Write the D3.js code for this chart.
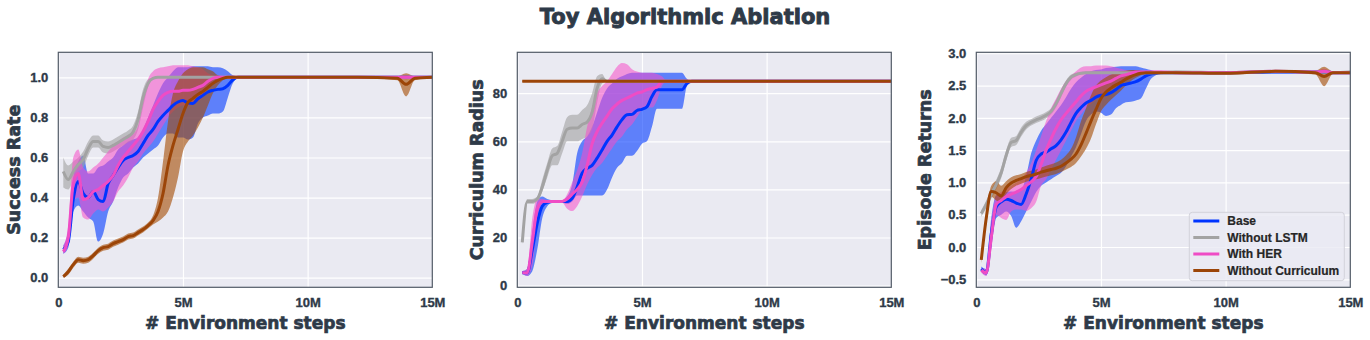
<!DOCTYPE html>
<html lang="en">
<head>
    <meta charset="UTF-8">
    <title>Toy Algorithmic Ablation</title>
    <script src="https://d3js.org/d3.v7.min.js"></script>
    <style>
        body {
            margin: 0;
            background: #ffffff;
        }

        .tick text {
            font-family: 'Liberation Sans', Arial, sans-serif;
            font-weight: bold;
            font-size: 13px;
            fill: #2e3a48;
            stroke: #2e3a48;
            stroke-width: 0.35px;
        }

        .grid line {
            stroke: #ffffff;
            stroke-width: 1.2px;
        }

        .label {
            font-family: 'DejaVu Sans', sans-serif;
            font-weight: bold;
            fill: #2e3a48;
            stroke: #2e3a48;
            stroke-width: 0.7px;
        }

        .legend text {
            font-family: 'Liberation Sans', Arial, sans-serif;
            font-weight: bold;
            font-size: 12px;
            fill: #262626;
            stroke: #262626;
            stroke-width: 0.2px;
        }
    </style>
</head>
<body>
    <svg width="1370" height="340" id="chart"></svg>

    <script>
        // x positions, millions of environment steps
        const steps = [
            0.2, 0.4, 0.6, 0.8, 1.0, 1.2, 1.4, 1.6, 1.8, 2.0,
            2.2, 2.4, 2.6, 2.8, 3.0, 3.2, 3.4, 3.6, 3.8, 4.0,
            4.2, 4.4, 4.6, 4.8, 5.0, 5.2, 5.4, 5.6, 5.8, 6.0,
            6.2, 6.4, 6.6, 6.8, 7.0, 7.2, 7.4,
            8, 10, 12, 13.6, 13.95, 14.3, 15
        ];

        const seriesNames = ["Base", "Without LSTM", "With HER", "Without Curriculum"];
        const seriesColors = ["#0034ff", "#a3a3a3", "#ef4cc5", "#9c4508"];
        const bandColors = ["#0038ff", "#a0a0a0", "#f54cc8", "#a34a00"];

        const xTicks = [0, 5, 10, 15];
        const xTickLabels = ["0", "5M", "10M", "15M"];

        // ---- Success Rate ----
        const srTicks = [0.0, 0.2, 0.4, 0.6, 0.8, 1.0];
        const srBase = [
            0.14, 0.18, 0.39, 0.48, 0.42, 0.40, 0.43, 0.39, 0.38, 0.47,
            0.51, 0.55, 0.585, 0.60, 0.61, 0.63, 0.67, 0.71, 0.74, 0.78,
            0.81, 0.835, 0.86, 0.877, 0.885, 0.872, 0.87, 0.893, 0.91, 0.927,
            0.935, 0.94, 0.943, 0.96, 0.988, 1.0, 1.0,
            1.0, 1.0, 1.0, 1.0, 1.0, 1.0, 1.0
        ];
        const srBaseLo = [
            0.12, 0.15, 0.33, 0.36, 0.33, 0.30, 0.28, 0.18, 0.22, 0.33,
            0.38, 0.45, 0.50, 0.52, 0.55, 0.57, 0.60, 0.62, 0.64, 0.66,
            0.70, 0.72, 0.72, 0.70, 0.70, 0.69, 0.70, 0.77, 0.80, 0.81,
            0.82, 0.82, 0.83, 0.90, 0.97, 0.995, 0.997,
            0.998, 0.998, 0.998, 0.998, 0.996, 0.998, 0.998
        ];
        const srBaseHi = [
            0.16, 0.24, 0.50, 0.58, 0.61, 0.52, 0.52, 0.55, 0.56, 0.58,
            0.60, 0.64, 0.66, 0.68, 0.69, 0.70, 0.74, 0.80, 0.86, 0.92,
            0.97, 1.00, 1.03, 1.05, 1.05, 1.05, 1.055, 1.055, 1.055, 1.055,
            1.05, 1.05, 1.045, 1.03, 1.01, 1.005, 1.003,
            1.002, 1.002, 1.002, 1.002, 1.004, 1.002, 1.002
        ];
        const srLstm = [
            0.53, 0.49, 0.53, 0.565, 0.59, 0.645, 0.68, 0.68, 0.655, 0.65,
            0.66, 0.675, 0.69, 0.705, 0.727, 0.79, 0.90, 0.97, 0.995, 1.0,
            1.0, 1.0, 1.0, 1.0, 1.0, 1.0, 1.0, 1.0, 1.0, 1.0,
            1.0, 1.0, 1.0, 1.0, 1.0, 1.0, 1.0,
            1.0, 1.0, 1.0, 1.0, 1.0, 1.0, 1.0
        ];
        const srLstmLo = [
            0.45, 0.44, 0.49, 0.53, 0.55, 0.61, 0.65, 0.65, 0.625, 0.62,
            0.63, 0.645, 0.66, 0.675, 0.69, 0.74, 0.85, 0.95, 0.99, 0.997,
            0.997, 0.997, 0.997, 0.997, 0.997, 0.997, 0.997, 0.997, 0.997, 0.997,
            0.997, 0.997, 0.997, 0.997, 0.997, 0.997, 0.997,
            0.998, 0.998, 0.998, 0.998, 0.998, 0.998, 0.998
        ];
        const srLstmHi = [
            0.60, 0.56, 0.58, 0.60, 0.63, 0.68, 0.71, 0.71, 0.685, 0.68,
            0.69, 0.705, 0.72, 0.735, 0.76, 0.83, 0.94, 0.99, 1.0, 1.003,
            1.003, 1.003, 1.003, 1.003, 1.003, 1.003, 1.003, 1.003, 1.003, 1.003,
            1.003, 1.003, 1.003, 1.003, 1.003, 1.003, 1.003,
            1.002, 1.002, 1.002, 1.002, 1.002, 1.002, 1.002
        ];
        const srHer = [
            0.13, 0.20, 0.47, 0.52, 0.39, 0.40, 0.43, 0.44, 0.46, 0.48,
            0.51, 0.56, 0.60, 0.63, 0.66, 0.69, 0.73, 0.78, 0.84, 0.88,
            0.91, 0.925, 0.93, 0.93, 0.935, 0.935, 0.94, 0.95, 0.96, 0.98,
            0.995, 1.0, 1.0, 1.0, 1.0, 1.0, 1.0,
            1.0, 1.0, 1.0, 1.0, 1.0, 1.0, 1.0
        ];
        const srHerLo = [
            0.12, 0.16, 0.38, 0.40, 0.30, 0.29, 0.32, 0.34, 0.33, 0.35,
            0.38, 0.43, 0.46, 0.50, 0.55, 0.58, 0.62, 0.65, 0.68, 0.72,
            0.76, 0.80, 0.83, 0.85, 0.86, 0.86, 0.87, 0.88, 0.90, 0.94,
            0.98, 0.995, 0.997, 0.997, 0.997, 0.997, 0.997,
            0.998, 0.998, 0.998, 0.998, 0.99, 0.998, 0.998
        ];
        const srHerHi = [
            0.16, 0.26, 0.60, 0.64, 0.55, 0.53, 0.55, 0.57, 0.60, 0.63,
            0.66, 0.68, 0.70, 0.71, 0.72, 0.76, 0.88, 0.99, 1.03, 1.045,
            1.05, 1.055, 1.06, 1.06, 1.06, 1.06, 1.055, 1.05, 1.04, 1.02,
            1.01, 1.005, 1.003, 1.003, 1.003, 1.003, 1.003,
            1.002, 1.002, 1.002, 1.002, 1.012, 1.002, 1.002
        ];
        const srCurr = [
            0.005, 0.03, 0.065, 0.09, 0.085, 0.09, 0.11, 0.135, 0.15, 0.155,
            0.17, 0.18, 0.19, 0.205, 0.21, 0.225, 0.24, 0.26, 0.285, 0.33,
            0.42, 0.56, 0.66, 0.74, 0.82, 0.875, 0.895, 0.915, 0.93, 0.95,
            0.97, 0.985, 0.995, 1.0, 1.0, 1.0, 1.0,
            1.0, 1.0, 1.0, 0.995, 0.965, 0.995, 1.0
        ];
        const srCurrLo = [
            0.0, 0.015, 0.05, 0.075, 0.07, 0.075, 0.095, 0.12, 0.135, 0.14,
            0.155, 0.165, 0.175, 0.19, 0.195, 0.21, 0.225, 0.245, 0.265, 0.28,
            0.30, 0.33, 0.40, 0.50, 0.63, 0.68, 0.71, 0.75, 0.80, 0.86,
            0.92, 0.96, 0.985, 0.997, 0.997, 0.997, 0.997,
            0.998, 0.998, 0.998, 0.985, 0.905, 0.985, 0.998
        ];
        const srCurrHi = [
            0.015, 0.045, 0.08, 0.105, 0.10, 0.105, 0.125, 0.15, 0.165, 0.17,
            0.185, 0.195, 0.205, 0.22, 0.225, 0.24, 0.255, 0.275, 0.31, 0.40,
            0.58, 0.78, 0.92, 0.98, 1.02, 1.04, 1.05, 1.05, 1.05, 1.04,
            1.03, 1.01, 1.005, 1.003, 1.003, 1.003, 1.003,
            1.002, 1.002, 1.002, 1.005, 1.02, 1.005, 1.002
        ];

        // ---- Curriculum Radius ----
        const crTicks = [0, 20, 40, 60, 80];
        const crBase = [
            5.4, 5.4, 14.8, 26, 33, 34.6, 35, 35, 35, 35,
            36.3, 41, 46.7, 48.8, 50, 53, 56.4, 60, 62.6, 66,
            69, 71, 71.2, 72.8, 73.3, 74.4, 78.6, 81.4, 81.4, 81.4,
            81.4, 81.4, 81.4, 84, 85, 85, 85,
            85, 85, 85, 85, 85, 85, 85
        ];
        const crBaseLo = [
            5, 4, 6, 15, 28, 33, 34.5, 34.5, 34.5, 34,
            35, 37.5, 37.5, 37.5, 37.5, 37.5, 37.5, 40, 45, 49,
            51, 54, 54, 56, 59, 60, 66, 73.5, 73.5, 73.5,
            73.5, 73.5, 73.5, 83, 85, 85, 85,
            85, 85, 85, 85, 85, 85, 85
        ];
        const crBaseHi = [
            6, 7, 22, 35, 37, 36, 35.5, 35.5, 35.5, 37,
            42, 55, 60, 62, 66, 72, 78, 82, 84, 86,
            87, 88, 88.5, 88.5, 88.5, 88.5, 88.5, 88.5, 88.5, 88.5,
            88.5, 88.5, 88.5, 86, 85, 85, 85,
            85, 85, 85, 85, 85, 85, 85
        ];
        const crLstm = [
            18, 35, 35, 36, 41, 48, 54, 55, 60, 65,
            65.5, 65.5, 67, 68, 72, 82, 86, 85, 85, 85,
            85, 85, 85, 85, 85, 85, 85, 85, 85, 85,
            85, 85, 85, 85, 85, 85, 85,
            85, 85, 85, 85, 85, 85, 85
        ];
        const crLstmLo = [
            17, 34, 34, 35, 39, 45, 50, 50, 55, 60,
            60, 60, 61, 62, 65, 76, 84, 85, 85, 85,
            85, 85, 85, 85, 85, 85, 85, 85, 85, 85,
            85, 85, 85, 85, 85, 85, 85,
            85, 85, 85, 85, 85, 85, 85
        ];
        const crLstmHi = [
            20, 36, 36, 37, 44, 51, 57, 58, 64, 70,
            71, 71, 73, 75, 80, 87, 88, 85, 85, 85,
            85, 85, 85, 85, 85, 85, 85, 85, 85, 85,
            85, 85, 85, 85, 85, 85, 85,
            85, 85, 85, 85, 85, 85, 85
        ];
        const crHer = [
            5.4, 5.4, 18, 32, 35, 35, 35, 35, 35, 36,
            38, 40, 43, 50, 59, 64, 67.5, 70.5, 73.5, 75.5,
            77, 78, 79, 80, 80.5, 81.5, 82, 82.5, 85, 85,
            85, 85, 85, 85, 85, 85, 85,
            85, 85, 85, 85, 85, 85, 85
        ];
        const crHerLo = [
            5, 4, 8, 26, 33, 34.5, 34.5, 34.5, 34.5, 32,
            31, 33, 37, 42, 46, 49, 51, 54, 57, 60,
            62, 65, 67, 70, 73, 74, 74, 77, 83, 85,
            85, 85, 85, 85, 85, 85, 85,
            85, 85, 85, 85, 85, 85, 85
        ];
        const crHerHi = [
            6, 7, 28, 36, 36, 35.5, 35.5, 35.5, 35.5, 38,
            43, 48, 55, 66, 74, 80, 83, 85, 88, 91,
            92.5, 92, 90, 89, 88.5, 88.5, 88.5, 88, 87, 85,
            85, 85, 85, 85, 85, 85, 85,
            85, 85, 85, 85, 85, 85, 85
        ];
        const crCurrSteps = [0.2, 15];
        const crCurr = [85, 85];
        const crCurrLo = [84.7, 84.7];
        const crCurrHi = [85.3, 85.3];

        // ---- Episode Returns ----
        const erTicks = [-0.5, 0.0, 0.5, 1.0, 1.5, 2.0, 2.5, 3.0];
        const erBase = [
            -0.34, -0.40, 0.20, 0.62, 0.70, 0.74, 0.72, 0.68, 0.66, 0.82,
            1.05, 1.34, 1.44, 1.47, 1.52, 1.57, 1.66, 1.78, 1.93, 2.07,
            2.16, 2.23, 2.27, 2.32, 2.35, 2.36, 2.39, 2.44, 2.50, 2.52,
            2.54, 2.56, 2.60, 2.65, 2.68, 2.69, 2.70,
            2.70, 2.70, 2.71, 2.71, 2.71, 2.70, 2.70
        ];
        const erBaseLo = [
            -0.38, -0.44, 0.0, 0.45, 0.50, 0.55, 0.48, 0.30, 0.40, 0.55,
            0.70, 0.85, 0.95, 1.00, 1.05, 1.10, 1.15, 1.25, 1.40, 1.55,
            1.75, 1.95, 2.05, 2.10, 2.08, 2.03, 2.05, 2.15, 2.20, 2.24,
            2.25, 2.27, 2.30, 2.45, 2.60, 2.66, 2.68,
            2.68, 2.68, 2.69, 2.69, 2.69, 2.68, 2.68
        ];
        const erBaseHi = [
            -0.30, -0.34, 0.45, 0.80, 0.82, 0.85, 0.86, 0.85, 0.88, 1.10,
            1.45, 1.65, 1.80, 1.90, 2.00, 2.10, 2.20, 2.32, 2.45, 2.55,
            2.62, 2.68, 2.72, 2.74, 2.75, 2.77, 2.78, 2.79, 2.80, 2.80,
            2.80, 2.80, 2.78, 2.76, 2.74, 2.72, 2.72,
            2.72, 2.72, 2.73, 2.73, 2.73, 2.72, 2.72
        ];
        const erLstm = [
            0.52, 0.66, 0.82, 0.97, 1.15, 1.42, 1.62, 1.65, 1.78, 1.88,
            1.93, 1.97, 2.00, 2.04, 2.10, 2.22, 2.38, 2.53, 2.63, 2.67,
            2.69, 2.70, 2.70, 2.70, 2.70, 2.70, 2.70, 2.70, 2.70, 2.70,
            2.70, 2.70, 2.70, 2.70, 2.70, 2.70, 2.70,
            2.71, 2.70, 2.72, 2.71, 2.71, 2.70, 2.71
        ];
        const erLstmLo = [
            0.47, 0.60, 0.75, 0.90, 1.07, 1.34, 1.55, 1.58, 1.71, 1.82,
            1.88, 1.92, 1.95, 1.99, 2.05, 2.16, 2.32, 2.48, 2.59, 2.64,
            2.67, 2.68, 2.68, 2.68, 2.68, 2.68, 2.68, 2.68, 2.68, 2.68,
            2.68, 2.68, 2.68, 2.68, 2.68, 2.68, 2.68,
            2.69, 2.68, 2.70, 2.69, 2.69, 2.68, 2.69
        ];
        const erLstmHi = [
            0.57, 0.72, 0.89, 1.04, 1.23, 1.50, 1.69, 1.72, 1.85, 1.94,
            1.98, 2.02, 2.05, 2.09, 2.15, 2.28, 2.44, 2.58, 2.67, 2.70,
            2.71, 2.72, 2.72, 2.72, 2.72, 2.72, 2.72, 2.72, 2.72, 2.72,
            2.72, 2.72, 2.72, 2.72, 2.72, 2.72, 2.72,
            2.73, 2.72, 2.74, 2.73, 2.73, 2.72, 2.73
        ];
        const erHer = [
            -0.36, -0.40, 0.15, 0.66, 0.72, 0.78, 0.82, 0.85, 0.89, 0.95,
            1.01, 1.09, 1.28, 1.50, 1.68, 1.84, 1.97, 2.07, 2.16, 2.25,
            2.34, 2.41, 2.45, 2.48, 2.51, 2.54, 2.57, 2.61, 2.65, 2.67,
            2.69, 2.71, 2.71, 2.71, 2.71, 2.71, 2.71,
            2.70, 2.70, 2.72, 2.71, 2.72, 2.70, 2.70
        ];
        const erHerLo = [
            -0.40, -0.45, -0.05, 0.50, 0.45, 0.42, 0.55, 0.58, 0.58, 0.56,
            0.60, 0.70, 0.95, 1.05, 1.20, 1.35, 1.50, 1.65, 1.80, 1.95,
            2.05, 2.15, 2.22, 2.28, 2.33, 2.38, 2.44, 2.50, 2.58, 2.62,
            2.65, 2.68, 2.69, 2.69, 2.69, 2.69, 2.69,
            2.68, 2.68, 2.70, 2.69, 2.70, 2.68, 2.68
        ];
        const erHerHi = [
            -0.32, -0.34, 0.40, 0.80, 0.85, 0.90, 0.95, 1.00, 1.05, 1.15,
            1.30, 1.50, 1.72, 1.95, 2.15, 2.30, 2.45, 2.57, 2.65, 2.72,
            2.78, 2.80, 2.80, 2.81, 2.81, 2.81, 2.80, 2.78, 2.76, 2.74,
            2.73, 2.73, 2.73, 2.73, 2.73, 2.73, 2.73,
            2.72, 2.72, 2.74, 2.73, 2.76, 2.72, 2.72
        ];
        const erCurr = [
            -0.20, 0.45, 0.86, 0.84, 0.79, 0.92, 0.99, 1.03, 1.06, 1.09,
            1.11, 1.13, 1.16, 1.18, 1.20, 1.22, 1.25, 1.30, 1.36, 1.44,
            1.58, 1.76, 1.95, 2.13, 2.30, 2.40, 2.46, 2.51, 2.55, 2.60,
            2.64, 2.67, 2.69, 2.70, 2.70, 2.70, 2.70,
            2.70, 2.69, 2.72, 2.70, 2.64, 2.70, 2.70
        ];
        const erCurrLo = [
            -0.25, 0.35, 0.78, 0.72, 0.68, 0.82, 0.90, 0.95, 0.98, 1.01,
            1.03, 1.05, 1.07, 1.09, 1.11, 1.13, 1.16, 1.20, 1.24, 1.30,
            1.40, 1.52, 1.68, 1.90, 2.10, 2.20, 2.28, 2.35, 2.42, 2.50,
            2.57, 2.62, 2.66, 2.68, 2.68, 2.68, 2.68,
            2.68, 2.67, 2.70, 2.67, 2.49, 2.68, 2.68
        ];
        const erCurrHi = [
            -0.15, 0.55, 0.95, 1.02, 0.95, 1.02, 1.08, 1.11, 1.13, 1.16,
            1.18, 1.20, 1.23, 1.26, 1.28, 1.31, 1.35, 1.42, 1.52, 1.70,
            1.95, 2.15, 2.35, 2.50, 2.58, 2.63, 2.67, 2.70, 2.72, 2.73,
            2.74, 2.74, 2.73, 2.72, 2.72, 2.72, 2.72,
            2.72, 2.71, 2.74, 2.73, 2.79, 2.72, 2.72
        ];

        const panels = [
            {
                left: 58.3, yDomain: [-0.048, 1.125], ticks: srTicks, fmt: d3.format(".1f"),
                label: "Success Rate",
                series: [
                    [steps, srBase, srBaseLo, srBaseHi],
                    [steps, srLstm, srLstmLo, srLstmHi],
                    [steps, srHer, srHerLo, srHerHi],
                    [steps, srCurr, srCurrLo, srCurrHi]
                ]
            },
            {
                left: 517.3, yDomain: [-0.7, 97], ticks: crTicks, fmt: d3.format("d"),
                label: "Curriculum Radius",
                series: [
                    [steps, crBase, crBaseLo, crBaseHi],
                    [steps, crLstm, crLstmLo, crLstmHi],
                    [steps, crHer, crHerLo, crHerHi],
                    [crCurrSteps, crCurr, crCurrLo, crCurrHi]
                ]
            },
            {
                left: 976.3, yDomain: [-0.624, 3.015], ticks: erTicks, fmt: d3.format(".1f"),
                label: "Episode Returns",
                series: [
                    [steps, erBase, erBaseLo, erBaseHi],
                    [steps, erLstm, erLstmLo, erLstmHi],
                    [steps, erHer, erHerLo, erHerHi],
                    [steps, erCurr, erCurrLo, erCurrHi]
                ]
            }
        ];

        const svg = d3.select("#chart");
        const plotW = 374, plotH = 235, plotTop = 52.3;

        svg.append("text")
            .attr("class", "label")
            .attr("x", 685).attr("y", 24)
            .attr("text-anchor", "middle")
            .style("font-size", "21px")
            .style("stroke-width", "0.9px")
            .text("Toy Algorithmic Ablation");

        panels.forEach((p, pi) => {
            const g = svg.append("g").attr("transform", `translate(${p.left},${plotTop})`);
            const x = d3.scaleLinear().domain([0, 15]).range([0, plotW]);
            const y = d3.scaleLinear().domain(p.yDomain).range([plotH, 0]);

            g.append("rect").attr("width", plotW).attr("height", plotH).attr("fill", "#eaeaf2");

            g.append("clipPath").attr("id", "clip" + pi)
                .append("rect").attr("width", plotW).attr("height", plotH);

            // grid + tick labels
            const yAxis = g.append("g").attr("class", "grid")
                .call(d3.axisLeft(y).tickValues(p.ticks).tickFormat(p.fmt)
                    .tickSize(-plotW).tickPadding(10));
            yAxis.select(".domain").remove();

            g.append("g").attr("class", "grid")
                .attr("transform", `translate(0,${plotH})`)
                .call(d3.axisBottom(x).tickValues(xTicks)
                    .tickFormat((d, i) => xTickLabels[i])
                    .tickSize(-plotH).tickPadding(10))
                .select(".domain").remove();

            const plot = g.append("g").attr("clip-path", `url(#clip${pi})`);

            // bands first, then mean lines
            p.series.forEach((s, si) => {
                const [xs, mean, lo, hi] = s;
                const area = d3.area()
                    .x((d, i) => x(xs[i]))
                    .y0((d, i) => y(lo[i]))
                    .y1((d, i) => y(hi[i]))
                    .curve(d3.curveMonotoneX);
                plot.append("path")
                    .attr("d", area(mean))
                    .attr("fill", bandColors[si])
                    .attr("fill-opacity", si === 2 ? 0.55 : 0.6);
            });

            p.series.forEach((s, si) => {
                const [xs, mean] = s;
                const line = d3.line()
                    .x((d, i) => x(xs[i]))
                    .y(d => y(d))
                    .curve(d3.curveMonotoneX);
                plot.append("path")
                    .attr("d", line(mean))
                    .attr("fill", "none")
                    .attr("stroke", seriesColors[si])
                    .attr("stroke-width", 3)
                    .attr("stroke-linejoin", "round");
            });

            g.append("rect").attr("width", plotW).attr("height", plotH)
                .attr("fill", "none").attr("stroke", "#525a66").attr("stroke-width", 1.2);

            // axis labels
            g.append("text").attr("class", "label")
                .attr("x", plotW / 2).attr("y", 276.5)
                .attr("text-anchor", "middle")
                .style("font-size", "17px")
                .text("# Environment steps");

            const bb = yAxis.node().getBBox();
            g.append("text").attr("class", "label")
                .attr("transform", `translate(${bb.x - 10},${plotH / 2}) rotate(-90)`)
                .attr("text-anchor", "middle")
                .style("font-size", "17.5px")
                .text(p.label);

            // legend only on the last panel
            if (pi === 2) {
                const lg = g.append("g").attr("class", "legend")
                    .attr("transform", `translate(${1189.3 - p.left},${212.3 - plotTop})`);
                lg.append("rect")
                    .attr("width", 155).attr("height", 68.4)
                    .attr("rx", 3)
                    .attr("fill", "#eaeaf2").attr("fill-opacity", 0.8)
                    .attr("stroke", "#d2d2da").attr("stroke-width", 1);
                seriesNames.forEach((name, i) => {
                    const ry = 8.7 + i * 16.5;
                    lg.append("line")
                        .attr("x1", 4).attr("x2", 30)
                        .attr("y1", ry).attr("y2", ry)
                        .attr("stroke", seriesColors[i]).attr("stroke-width", 3);
                    lg.append("text")
                        .attr("x", 38).attr("y", ry + 4.3)
                        .text(name);
                });
            }
        });
    </script>
</body>
</html>
